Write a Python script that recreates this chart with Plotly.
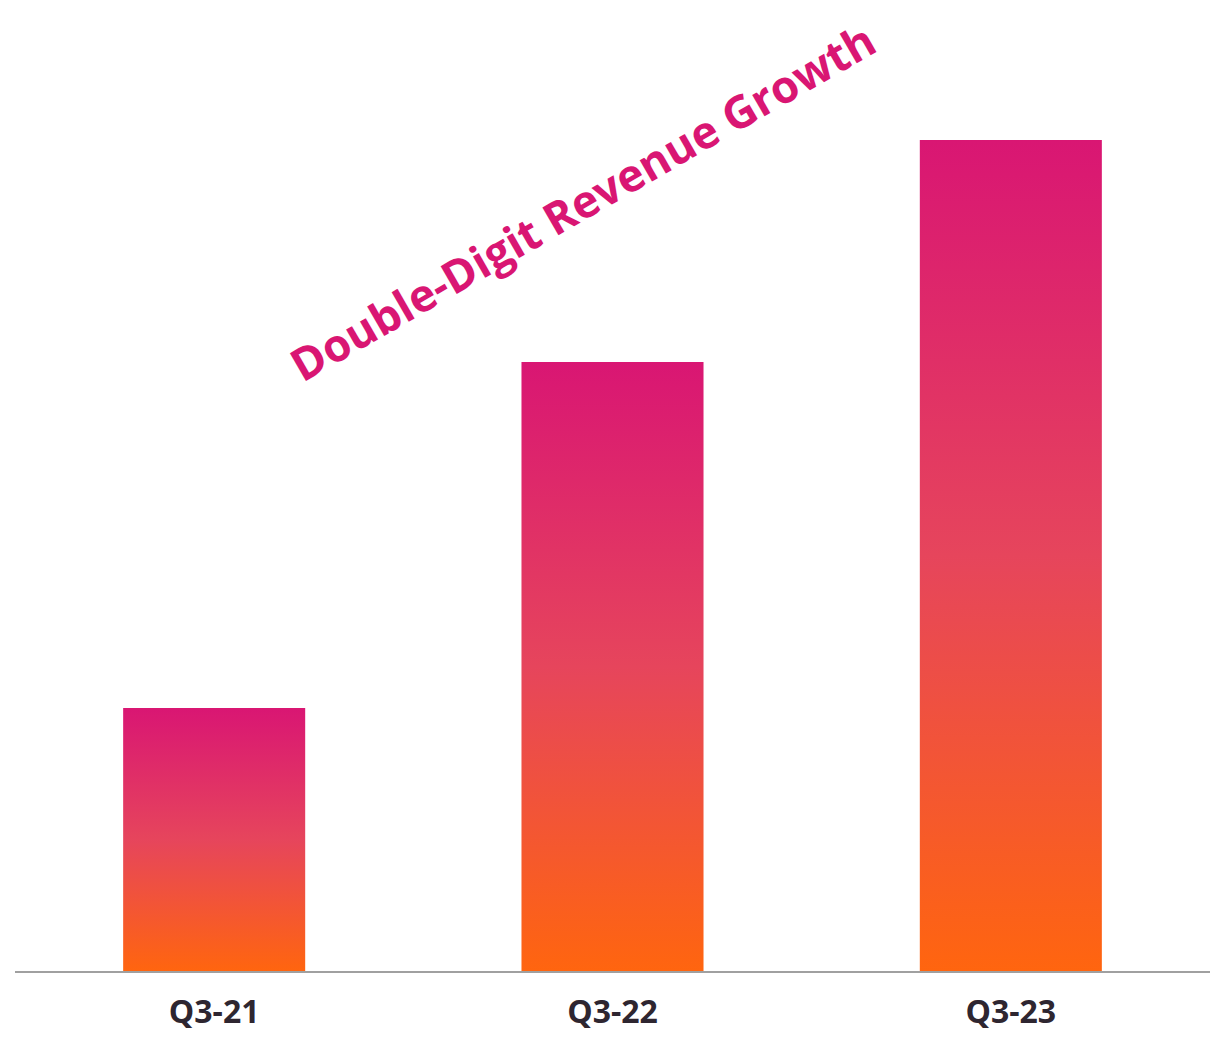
import plotly.graph_objects as go

categories = ["Q3-21", "Q3-22", "Q3-23"]
revenue = [263, 609, 831]
title_text = "Double-Digit Revenue Growth"

bar_width = 0.457
grad = [[0.0, "#FF650F"], [0.5, "#E6455C"], [1.0, "#D91673"]]

fig = go.Figure()
for i, (cat, v) in enumerate(zip(categories, revenue)):
    fig.add_trace(go.Scatter(
        x=[i - bar_width / 2, i + bar_width / 2, i + bar_width / 2, i - bar_width / 2, i - bar_width / 2],
        y=[0, 0, v, v, 0],
        mode="lines",
        fill="toself",
        fillgradient=dict(type="vertical", colorscale=grad),
        line=dict(width=0),
        name=cat,
        hoverinfo="skip",
        showlegend=False,
    ))

fig.add_annotation(
    text="<b>" + title_text + "</b>", xref="paper", yref="paper",
    x=(582 - 15) / 1195, y=1 - (201 - 8) / 963,
    xanchor="center", yanchor="middle",
    textangle=-30, showarrow=False,
    font=dict(family="Open Sans", size=45, color="#D91673"),
)

fig.update_layout(
    width=1207, height=1024,
    margin=dict(l=7, r=5, t=0, b=61),
    paper_bgcolor="white", plot_bgcolor="white",
    xaxis=dict(
        range=[-0.5, 2.5], tickvals=list(range(len(categories))),
        ticktext=["<b>" + c + "</b>" for c in categories],
        showgrid=False, zeroline=False, showline=True, linecolor="#A0A0A0", linewidth=2,
        ticks="", ticklabelstandoff=12, automargin=False,
        tickfont=dict(family="Open Sans", size=32, color="#2E2630"),
        fixedrange=True,
    ),
    yaxis=dict(range=[0, 963], visible=False, fixedrange=True, automargin=False),
)

fig.write_html("out.html")
